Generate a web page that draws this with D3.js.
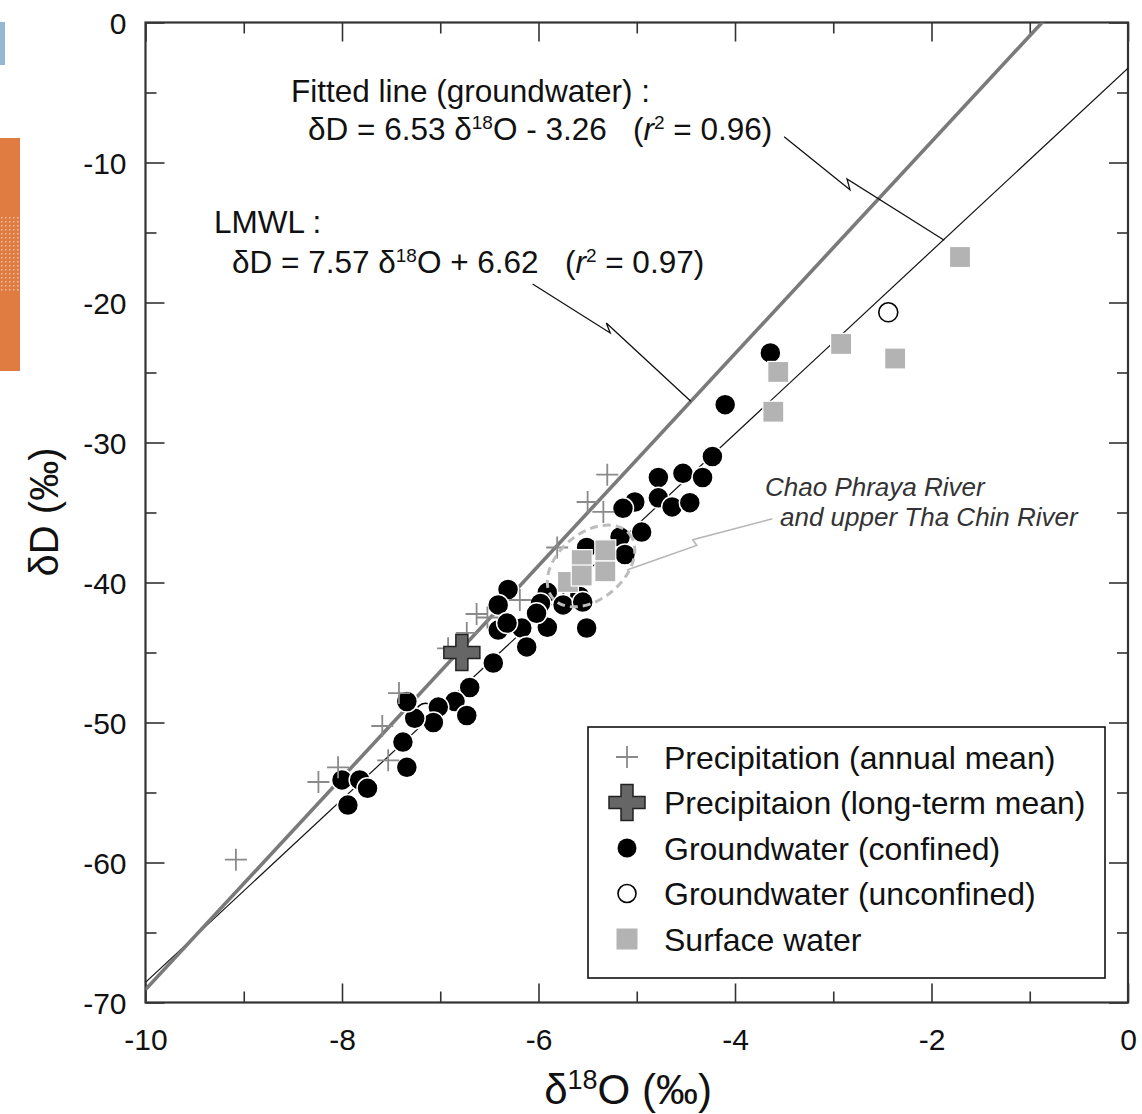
<!DOCTYPE html>
<html>
<head>
<meta charset="utf-8">
<script src="https://cdn.jsdelivr.net/npm/d3@7"></script>
<style>
  body { margin: 0; background: #fff; }
  text { font-family: "Liberation Sans", Arial, sans-serif; }
</style>
</head>
<body>
<div id="chart"></div>
<script>
// canvas setup
const width = 1142;
const height = 1114;
const margin = {top: 22.5, right: 14, bottom: 111.5, left: 145.5};
const graphWidth = width - margin.left - margin.right;
const graphHeight = height - margin.top - margin.bottom;

// ---- data (δ18O, δD in permil) ----
const precipAnnual = [[-9.08,-59.8],[-8.24,-54.25],[-8.04,-53.2],[-7.53,-52.7],[-7.59,-50.25],
  [-7.42,-47.9],[-6.92,-44.7],[-6.63,-42.25],[-6.73,-43.6],[-6.52,-42.5],[-6.19,-41.25],
  [-5.81,-37.5],[-5.50,-34.25],[-5.34,-34.96],[-5.30,-32.3]];
const precipLongTerm = [[-6.78,-45.0]];
const gwConfined = [[-3.64,-23.6],[-4.10,-27.3],[-4.23,-31.0],[-4.78,-32.5],[-4.53,-32.2],
  [-4.33,-32.5],[-5.02,-34.25],[-4.78,-33.95],[-4.64,-34.6],[-4.46,-34.3],[-4.95,-36.4],
  [-5.17,-36.75],[-5.12,-38.0],[-5.51,-37.5],[-5.58,-41.0],[-6.31,-40.5],[-6.41,-41.6],
  [-5.91,-40.7],[-5.98,-41.5],[-5.75,-41.6],[-5.55,-41.4],[-6.17,-43.25],[-5.91,-43.2],
  [-5.51,-43.25],[-6.41,-43.4],[-6.12,-44.6],[-6.46,-45.75],[-6.70,-47.5],[-6.85,-48.5],
  [-6.73,-49.5],[-7.02,-48.9],[-7.07,-50.0],[-7.26,-49.7],[-7.34,-48.5],[-7.38,-51.4],
  [-7.34,-53.2],[-8.00,-54.1],[-7.82,-54.1],[-7.74,-54.7],[-7.94,-55.9],[-6.02,-42.2],
  [-6.32,-42.9],[-5.14,-34.7]];
const gwUnconfined = [[-7.15,-49.3],[-2.44,-20.7]];
const surfaceWater = [[-1.71,-16.75],[-2.92,-22.96],[-2.37,-24.0],[-3.56,-24.96],[-3.61,-27.8],
  [-5.56,-38.4],[-5.70,-39.96],[-5.56,-39.5],[-5.32,-39.2],[-5.32,-37.7]];

// regression lines: slope, intercept
const lmwl = {slope: 7.57, intercept: 6.62};
const fitted = {slope: 6.53, intercept: -3.26};

// annotation pointers (data units)
const fittedPointer = [[-3.50,-8.16],[-2.83,-11.94],[-2.86,-11.17],[-1.87,-15.55]];
const lmwlPointer = [[-6.06,-18.68],[-5.27,-22.18],[-5.31,-21.46],[-4.45,-27.05]];
const chaoPointer = [[-5.10,-39.1],[-4.39,-37.35],[-4.43,-36.95],[-3.62,-35.45]];
const chaoCenter = [-5.465,-38.82];

const xTicks = [-10,-8,-6,-4,-2,0];
const yTicks = [0,-10,-20,-30,-40,-50,-60,-70];
const xMinor = [-9,-7,-5,-3,-1];
const yMinor = [-5,-15,-25,-35,-45,-55,-65];

const legendLabels = ['Precipitation (annual mean)', 'Precipitaion (long-term mean)',
  'Groundwater (confined)', 'Groundwater (unconfined)', 'Surface water'];

const svg = d3.select('#chart')
  .append('svg')
  .attr('width', width)
  .attr('height', height);

// slide decorations at the left edge
const defs = svg.append('defs');
const pat = defs.append('pattern').attr('id', 'dots')
  .attr('width', 4).attr('height', 4).attr('patternUnits', 'userSpaceOnUse');
pat.append('rect').attr('width', 4).attr('height', 4).attr('fill', '#e07c42');
pat.append('rect').attr('x', 1).attr('y', 1).attr('width', 1.5).attr('height', 1.5).attr('fill', '#f2c2a0');
svg.append('rect').attr('x', 0).attr('y', 22).attr('width', 5).attr('height', 43).attr('fill', '#93b7d5');
svg.append('rect').attr('x', 0).attr('y', 138).attr('width', 20).attr('height', 233).attr('fill', '#e07c42');
svg.append('rect').attr('x', 0).attr('y', 215).attr('width', 20).attr('height', 78).attr('fill', 'url(#dots)');

const graph = svg.append('g')
  .attr('transform', `translate(${margin.left}, ${margin.top})`);

const xScale = d3.scaleLinear().domain([-10, 0]).range([0, graphWidth]);
const yScale = d3.scaleLinear().domain([-70, 0]).range([graphHeight, 0]);

defs.append('clipPath').attr('id', 'plot-clip')
  .append('rect').attr('width', graphWidth).attr('height', graphHeight);

// ticks, inward on all four sides
const axisColor = '#333';
function drawAxis(axisFn, values, size, padding, transform) {
  const ax = axisFn.tickValues(values).tickSize(-size).tickPadding(padding)
    .tickFormat(padding ? (d => String(d)) : '');
  const g = graph.append('g').attr('transform', transform).call(ax);
  g.select('.domain').remove();
  g.selectAll('line').attr('stroke', axisColor).attr('stroke-width', 1.6);
  g.selectAll('text').attr('fill', '#111').style('font-size', '30px')
    .style('font-family', '"Liberation Sans", Arial, sans-serif');
  return g;
}
drawAxis(d3.axisBottom(xScale), xTicks, 19, 26, `translate(0, ${graphHeight})`);
drawAxis(d3.axisBottom(xScale), xMinor, 11, 0, `translate(0, ${graphHeight})`);
drawAxis(d3.axisTop(xScale), xTicks, 19, 0, 'translate(0,0)');
drawAxis(d3.axisTop(xScale), xMinor, 11, 0, 'translate(0,0)');
const yAx = drawAxis(d3.axisLeft(yScale), yTicks, 19, 19, 'translate(0,0)');
yAx.selectAll('text').attr('dy', '0.36em');
drawAxis(d3.axisLeft(yScale), yMinor, 11, 0, 'translate(0,0)');
drawAxis(d3.axisRight(yScale), yTicks, 19, 0, `translate(${graphWidth},0)`);
drawAxis(d3.axisRight(yScale), yMinor, 11, 0, `translate(${graphWidth},0)`);

graph.append('rect')
  .attr('width', graphWidth).attr('height', graphHeight)
  .attr('fill', 'none').attr('stroke', axisColor).attr('stroke-width', 2.2);

// regression lines
const plot = graph.append('g').attr('clip-path', 'url(#plot-clip)');
const lineGen = d3.line().x(d => xScale(d[0])).y(d => yScale(d[1]));
function lineData(l) { return [-10, 0].map(x => [x, l.slope * x + l.intercept]); }
plot.append('path').datum(lineData(fitted)).attr('d', lineGen)
  .attr('fill', 'none').attr('stroke', '#111').attr('stroke-width', 1.2);
plot.append('path').datum(lineData(lmwl)).attr('d', lineGen)
  .attr('fill', 'none').attr('stroke', '#7a7a7a').attr('stroke-width', 3.6);

// annotation pointers
graph.append('path').datum(fittedPointer).attr('d', lineGen)
  .attr('fill', 'none').attr('stroke', '#111').attr('stroke-width', 1.3);
graph.append('path').datum(lmwlPointer).attr('d', lineGen)
  .attr('fill', 'none').attr('stroke', '#111').attr('stroke-width', 1.3);

// symbols
const thinPlus = 'M-11,0H11M0,-11V11';
const bigCross = d3.symbol(d3.symbolCross).size(720)();

plot.selectAll('.open').data(gwUnconfined).enter().append('circle')
  .attr('cx', d => xScale(d[0])).attr('cy', d => yScale(d[1])).attr('r', 9.5)
  .attr('fill', '#fff').attr('stroke', '#000').attr('stroke-width', 1.6);

plot.selectAll('.confined').data(gwConfined).enter().append('circle')
  .attr('cx', d => xScale(d[0])).attr('cy', d => yScale(d[1])).attr('r', 10.5)
  .attr('fill', '#000').attr('stroke', '#fff').attr('stroke-width', 1.5);

plot.selectAll('.annual').data(precipAnnual).enter().append('path')
  .attr('d', thinPlus)
  .attr('transform', d => `translate(${xScale(d[0])},${yScale(d[1])})`)
  .attr('stroke', '#8a8a8a').attr('stroke-width', 1.8).attr('fill', 'none');

// Chao Phraya grouping ellipse and pointer
plot.append('ellipse')
  .attr('transform', `translate(${xScale(chaoCenter[0])},${yScale(chaoCenter[1])}) rotate(-40)`)
  .attr('rx', 50).attr('ry', 33)
  .attr('fill', 'none').attr('stroke', '#bdbdbd').attr('stroke-width', 3)
  .attr('stroke-dasharray', '8,5');
graph.append('path').datum(chaoPointer).attr('d', lineGen)
  .attr('fill', 'none').attr('stroke', '#b5b5b5').attr('stroke-width', 1.6);

plot.selectAll('.surface').data(surfaceWater).enter().append('rect')
  .attr('x', d => xScale(d[0]) - 10.5).attr('y', d => yScale(d[1]) - 10.5)
  .attr('width', 21).attr('height', 21)
  .attr('fill', '#b3b3b3').attr('stroke', '#fff').attr('stroke-width', 1.2);

plot.selectAll('.longterm').data(precipLongTerm).enter().append('path')
  .attr('d', bigCross)
  .attr('transform', d => `translate(${xScale(d[0])},${yScale(d[1])})`)
  .attr('fill', '#666').attr('stroke', '#222').attr('stroke-width', 1.5);

// annotation texts
const ann = graph.append('g').style('font-size', '31.5px').attr('fill', '#111');
ann.append('text').attr('x', 291 - margin.left).attr('y', 102 - margin.top)
  .text('Fitted line (groundwater) :');
function equation(x, y, a, sign, b, r2) {
  const t = ann.append('text').attr('x', x - margin.left).attr('y', y - margin.top);
  t.append('tspan').text(`δD = ${a} δ`);
  t.append('tspan').text('18').style('font-size', '19px').attr('dy', -11);
  t.append('tspan').text(`O ${sign} ${b}\u00a0\u00a0\u00a0(`).attr('dy', 11);
  t.append('tspan').text('r').style('font-style', 'italic');
  t.append('tspan').text('2').style('font-size', '19px').attr('dy', -11);
  t.append('tspan').text(` = ${r2})`).attr('dy', 11);
}
equation(308, 140, '6.53', '-', '3.26', '0.96');
ann.append('text').attr('x', 214 - margin.left).attr('y', 233 - margin.top).text('LMWL :');
equation(232, 273, '7.57', '+', '6.62', '0.97');

const chao = graph.append('g').style('font-size', '26px').style('font-style', 'italic').attr('fill', '#333');
chao.append('text').attr('x', 765 - margin.left).attr('y', 496 - margin.top).text('Chao Phraya River');
chao.append('text').attr('x', 780 - margin.left).attr('y', 526 - margin.top).text('and upper Tha Chin River');

// legend
const legend = graph.append('g').attr('transform', `translate(${588 - margin.left}, ${727 - margin.top})`);
legend.append('rect').attr('width', 517).attr('height', 251)
  .attr('fill', '#fff').attr('stroke', '#111').attr('stroke-width', 1.6);
const rowY = i => 30 + i * 45.5;
const sx = 39;
legend.append('path').attr('d', thinPlus).attr('transform', `translate(${sx},${rowY(0)})`)
  .attr('stroke', '#8a8a8a').attr('stroke-width', 1.8);
legend.append('path').attr('d', bigCross).attr('transform', `translate(${sx},${rowY(1)})`)
  .attr('fill', '#666').attr('stroke', '#222').attr('stroke-width', 1.5);
legend.append('circle').attr('cx', sx).attr('cy', rowY(2)).attr('r', 9.5).attr('fill', '#000');
legend.append('circle').attr('cx', sx).attr('cy', rowY(3)).attr('r', 9).attr('fill', '#fff')
  .attr('stroke', '#000').attr('stroke-width', 1.6);
legend.append('rect').attr('x', sx - 10.5).attr('y', rowY(4) - 10.5).attr('width', 21).attr('height', 21)
  .attr('fill', '#b3b3b3');
legend.selectAll('.lbl').data(legendLabels).enter().append('text')
  .attr('x', 76).attr('y', (d, i) => rowY(i)).attr('dy', '0.36em')
  .style('font-size', '32px').attr('fill', '#111').text(d => d);

// axis titles
const yTitle = svg.append('text')
  .attr('transform', 'translate(58, 512) rotate(-90)')
  .attr('text-anchor', 'middle').style('font-size', '40px').attr('fill', '#111');
yTitle.append('tspan').text('δD (‰)');

const xTitle = svg.append('text')
  .attr('x', 628).attr('y', 1104)
  .attr('text-anchor', 'middle').style('font-size', '42px').attr('fill', '#111');
xTitle.append('tspan').text('δ');
xTitle.append('tspan').text('18').style('font-size', '27px').attr('dy', -15);
xTitle.append('tspan').text('O (‰)').attr('dy', 15);
</script>
</body>
</html>
